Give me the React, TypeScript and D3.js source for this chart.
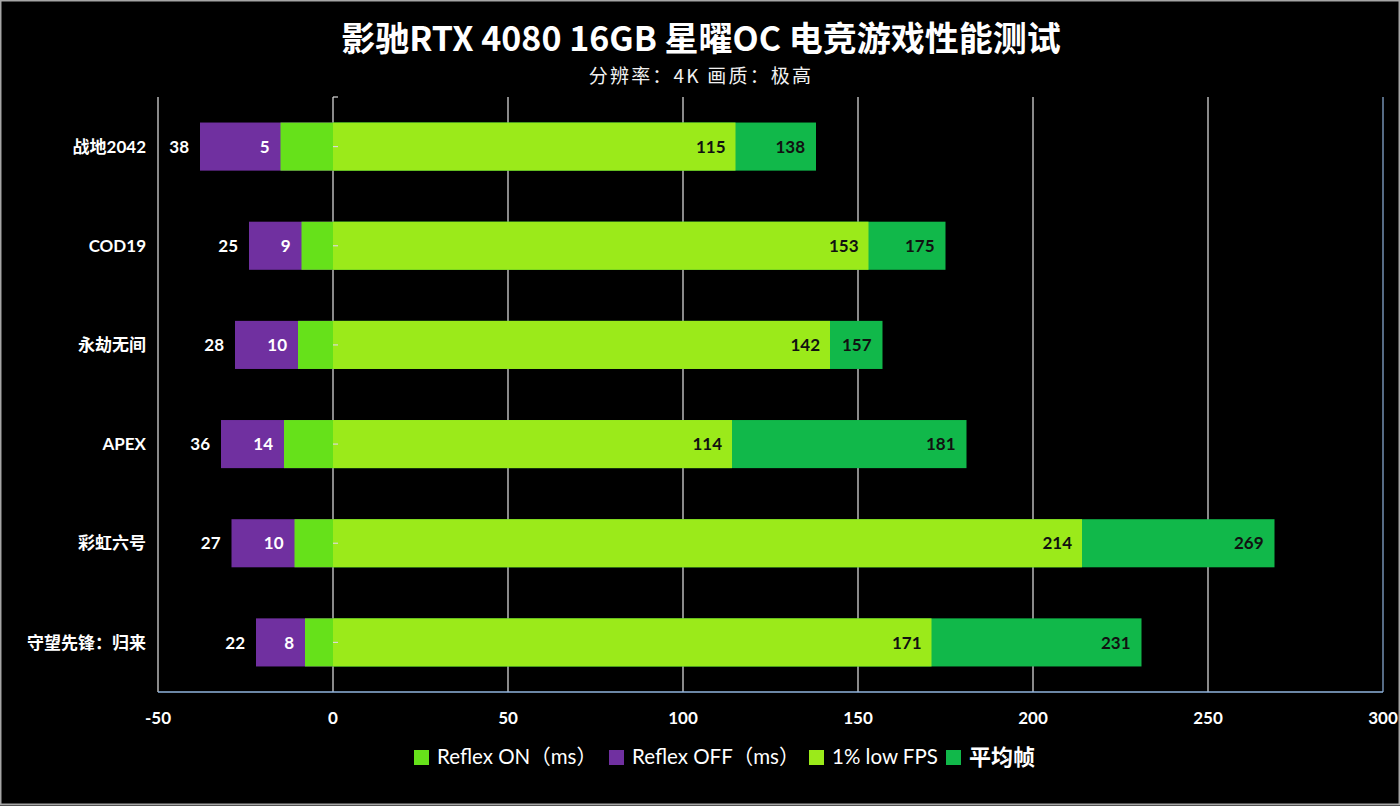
import * as d3 from 'd3'

const W = 1400
const H = 806
const MARGIN = { top: 97, right: 17, bottom: 114, left: 158 }

const categories = ['战地2042', 'COD19', '永劫无间', 'APEX', '彩虹六号', '守望先锋：归来']
// bar lengths (drawn to the left of zero)
const reflexOn = [15, 9, 10, 14, 11, 8]
const reflexOff = [38, 24, 28, 32, 29, 22]
// labels as printed on the bars
const reflexOnLabels = ['5', '9', '10', '14', '10', '8']
const reflexOffLabels = ['38', '25', '28', '36', '27', '22']
const lowFps = [115, 153, 142, 114, 214, 171]
const avgFps = [138, 175, 157, 181, 269, 231]
const xTicks = [-50, 0, 50, 100, 150, 200, 250, 300]

const legendItems = [
  { name: 'Reflex ON（ms）', color: '#66e11a', x: 414 },
  { name: 'Reflex OFF（ms）', color: '#7030a0', x: 609 },
  { name: '1% low FPS', color: '#9bea1a', x: 809 },
  { name: '平均帧', color: '#11b84a', x: 946 },
]

const FONT = "Lato, 'Noto Sans CJK SC', sans-serif"
const CJK = "'Noto Sans CJK SC', sans-serif"

export default function App() {
  const innerW = W - MARGIN.left - MARGIN.right
  const innerH = H - MARGIN.top - MARGIN.bottom
  const x = d3.scaleLinear().domain([-50, 300]).range([MARGIN.left, MARGIN.left + innerW])
  const y = d3.scaleBand().domain(categories).range([MARGIN.top, MARGIN.top + innerH]).paddingInner(0.515).paddingOuter(0.2575)
  const bw = y.bandwidth()
  const x0 = x(0)

  return (
    <>
      <style>{'body{margin:0;background:#000}'}</style>
      <svg width={W} height={H} style={{ display: 'block', background: '#000' }} fontFamily={FONT}>
        <rect x={0.5} y={0.5} width={W - 1} height={H - 2} fill="#000" stroke="#a6a6a6" strokeWidth={2} />

        {/* title */}
        <text x={701} y={51} textAnchor="middle" fill="#fff" fontSize={34} fontWeight="bold" fontFamily={CJK}>
          影驰RTX 4080 16GB 星曜OC 电竞游戏性能测试
        </text>
        <text x={701} y={83} textAnchor="middle" fill="#f2f2f2" fontSize={19} fontFamily={CJK} letterSpacing={2.2}>
          分辨率：4K 画质：极高
        </text>

        {/* gridlines */}
        {xTicks.map((t) => (
          <line key={t} x1={x(t)} x2={x(t)} y1={MARGIN.top} y2={MARGIN.top + innerH}
            stroke={t === 300 ? '#8fb3dc' : '#e6e6e6'} strokeWidth={1.2} />
        ))}

        {/* bars */}
        {categories.map((c, i) => {
          const yy = y(c) ?? 0
          const cy = yy + bw / 2
          return (
            <g key={c}>
              <rect x={x0} y={yy} width={x(avgFps[i]) - x0} height={bw} fill="#11b84a" />
              <rect x={x0} y={yy} width={x(lowFps[i]) - x0} height={bw} fill="#9bea1a" />
              <rect x={x(-reflexOff[i])} y={yy} width={x0 - x(-reflexOff[i])} height={bw} fill="#7030a0" />
              <rect x={x(-reflexOn[i])} y={yy} width={x0 - x(-reflexOn[i])} height={bw} fill="#66e11a" />
              <line x1={x0} x2={x0 + 5} y1={cy} y2={cy} stroke="#d9d9d9" strokeWidth={1.2} />

              <text x={x(lowFps[i]) - 10} y={cy} dy="0.36em" textAnchor="end" fontSize={17} fontWeight="bold" fill="#111">{lowFps[i]}</text>
              <text x={x(avgFps[i]) - 11} y={cy} dy="0.36em" textAnchor="end" fontSize={17} fontWeight="bold" fill="#111">{avgFps[i]}</text>
              <text x={x(-reflexOn[i]) - 11} y={cy} dy="0.36em" textAnchor="end" fontSize={17} fontWeight="bold" fill="#fff">{reflexOnLabels[i]}</text>
              <text x={x(-reflexOff[i]) - 11} y={cy} dy="0.36em" textAnchor="end" fontSize={17} fontWeight="bold" fill="#fff">{reflexOffLabels[i]}</text>

              <text x={146} y={cy} dy="0.36em" textAnchor="end" fontSize={17} fontWeight="bold" fill="#fff">{c}</text>
            </g>
          )
        })}

        {/* zero axis top tick */}
        <line x1={x0} x2={x0 + 5} y1={MARGIN.top} y2={MARGIN.top} stroke="#d9d9d9" strokeWidth={1.2} />

        {/* bottom axis */}
        <line x1={MARGIN.left} x2={MARGIN.left + innerW} y1={MARGIN.top + innerH} y2={MARGIN.top + innerH} stroke="#8fb3dc" strokeWidth={1.5} />
        {xTicks.map((t) => (
          <text key={t} x={x(t)} y={MARGIN.top + innerH + 32} textAnchor="middle" fontSize={17} fontWeight="bold" fill="#fff">{t}</text>
        ))}

        {/* legend */}
        {legendItems.map((d, i) => (
          <g key={d.name}>
            <rect x={d.x} y={750} width={15} height={15} fill={d.color} />
            <text x={d.x + 23} y={757} dy="0.36em" fontSize={i === 3 ? 22 : 20.5} fontWeight={i === 3 ? 'bold' : 'normal'} fill="#fff"
              fontFamily={i === 3 ? CJK : FONT}>{d.name}</text>
          </g>
        ))}
      </svg>
    </>
  )
}
